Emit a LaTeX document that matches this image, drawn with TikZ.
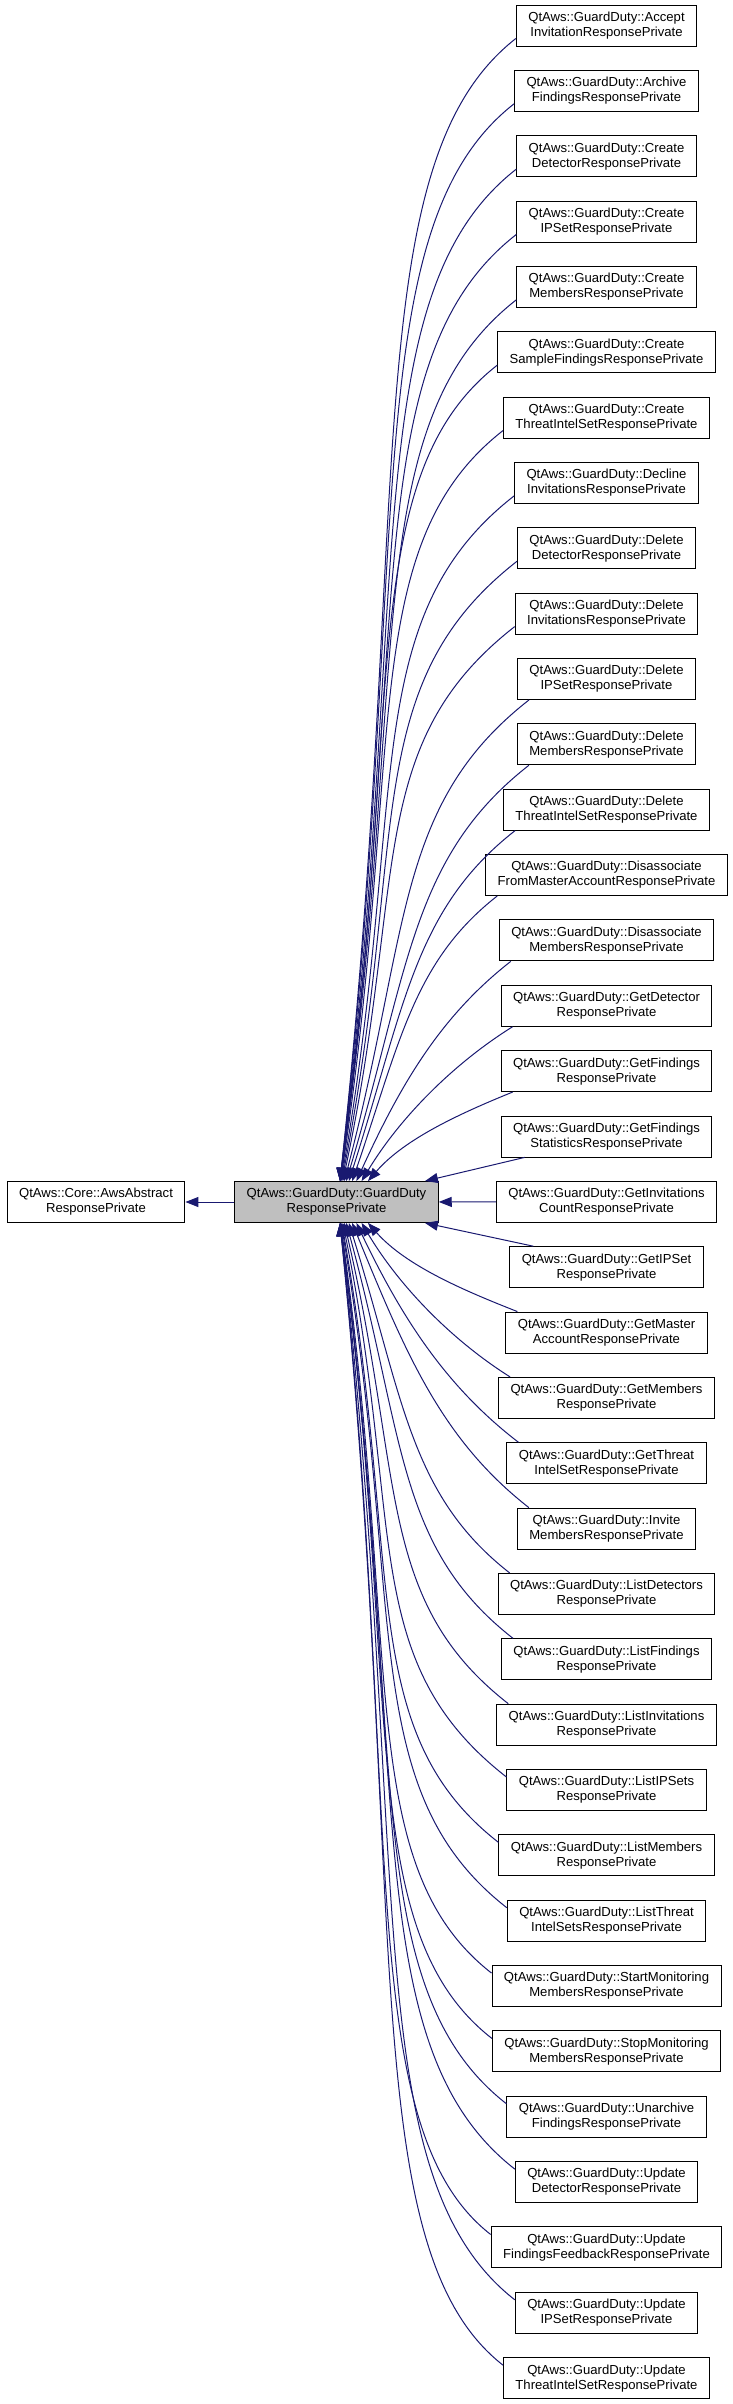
\documentclass[tikz,border=0pt]{standalone}
\usepackage{fontspec}
\setmainfont{Liberation Sans}
\usetikzlibrary{arrows.meta,calc}

\definecolor{edgeblue}{RGB}{25,25,112}
\definecolor{gdgray}{RGB}{191,191,191}

\tikzset{
	classbox/.style={draw=black, line width=0.9pt, fill=white, align=center,
		minimum height=41pt, inner xsep=12pt, inner ysep=2pt,
		font=\fontsize{13.1}{15}\selectfont},
	inherit/.style={draw=edgeblue, line width=1pt, -{Triangle[length=13pt,width=10pt]}},
}

\begin{document}
\begin{tikzpicture}[x=1pt, y=-1pt]
	\useasboundingbox (0,0) rectangle (732,2404);
	% Classes:
	\node[classbox] (base) at (96,1202) {QtAws::Core::AwsAbstract\\ResponsePrivate};
	\node[classbox, fill=gdgray] (gd) at (336.5,1202) {QtAws::GuardDuty::GuardDuty\\ResponsePrivate};
	\foreach \name/\txt [count=\i from 0] in {
		acc/QtAws::GuardDuty::Accept\\InvitationResponsePrivate,
		arch/QtAws::GuardDuty::Archive\\FindingsResponsePrivate,
		crdet/QtAws::GuardDuty::Create\\DetectorResponsePrivate,
		crip/QtAws::GuardDuty::Create\\IPSetResponsePrivate,
		crmem/QtAws::GuardDuty::Create\\MembersResponsePrivate,
		crsam/QtAws::GuardDuty::Create\\SampleFindingsResponsePrivate,
		crthr/QtAws::GuardDuty::Create\\ThreatIntelSetResponsePrivate,
		decinv/QtAws::GuardDuty::Decline\\InvitationsResponsePrivate,
		deldet/QtAws::GuardDuty::Delete\\DetectorResponsePrivate,
		delinv/QtAws::GuardDuty::Delete\\InvitationsResponsePrivate,
		delip/QtAws::GuardDuty::Delete\\IPSetResponsePrivate,
		delmem/QtAws::GuardDuty::Delete\\MembersResponsePrivate,
		delthr/QtAws::GuardDuty::Delete\\ThreatIntelSetResponsePrivate,
		disfrom/QtAws::GuardDuty::Disassociate\\FromMasterAccountResponsePrivate,
		dismem/QtAws::GuardDuty::Disassociate\\MembersResponsePrivate,
		getdet/QtAws::GuardDuty::GetDetector\\ResponsePrivate,
		getfind/QtAws::GuardDuty::GetFindings\\ResponsePrivate,
		getstat/QtAws::GuardDuty::GetFindings\\StatisticsResponsePrivate,
		getinv/QtAws::GuardDuty::GetInvitations\\CountResponsePrivate,
		getip/QtAws::GuardDuty::GetIPSet\\ResponsePrivate,
		getmas/QtAws::GuardDuty::GetMaster\\AccountResponsePrivate,
		getmem/QtAws::GuardDuty::GetMembers\\ResponsePrivate,
		getthr/QtAws::GuardDuty::GetThreat\\IntelSetResponsePrivate,
		invmem/QtAws::GuardDuty::Invite\\MembersResponsePrivate,
		lsdet/QtAws::GuardDuty::ListDetectors\\ResponsePrivate,
		lsfind/QtAws::GuardDuty::ListFindings\\ResponsePrivate,
		lsinv/QtAws::GuardDuty::ListInvitations\\ResponsePrivate,
		lsip/QtAws::GuardDuty::ListIPSets\\ResponsePrivate,
		lsmem/QtAws::GuardDuty::ListMembers\\ResponsePrivate,
		lsthr/QtAws::GuardDuty::ListThreat\\IntelSetsResponsePrivate,
		startmon/QtAws::GuardDuty::StartMonitoring\\MembersResponsePrivate,
		stopmon/QtAws::GuardDuty::StopMonitoring\\MembersResponsePrivate,
		unarch/QtAws::GuardDuty::Unarchive\\FindingsResponsePrivate,
		upddet/QtAws::GuardDuty::Update\\DetectorResponsePrivate,
		updfb/QtAws::GuardDuty::Update\\FindingsFeedbackResponsePrivate,
		updip/QtAws::GuardDuty::Update\\IPSetResponsePrivate,
		updthr/QtAws::GuardDuty::Update\\ThreatIntelSetResponsePrivate}
		\node[classbox] (\name) at (606.5,25.5+65.35*\i) {\txt};
	% Inheritance edges:
	\draw[inherit] (gd) -- (base);
	\foreach \name [count=\i from 0] in {acc,arch,crdet,crip,crmem,crsam,crthr,decinv,
		deldet,delinv,delip,delmem,delthr,disfrom,dismem,getdet,getfind,getstat,getinv,
		getip,getmas,getmem,getthr,invmem,lsdet,lsfind,lsinv,lsip,lsmem,lsthr,
		startmon,stopmon,unarch,upddet,updfb,updip,updthr} {
		\pgfmathtruncatemacro\kk{\i-18}
		\pgfmathtruncatemacro\absk{abs(\kk)}
		\ifnum\kk<0
			\def\sgn{1}\def\nsgn{-1}\def\gdside{north}\def\chanchor{south west}
		\else
			\def\sgn{-1}\def\nsgn{1}\def\gdside{south}\def\chanchor{north west}
		\fi
		\ifnum\absk>8
			\def\dx{0}\def\dy{\nsgn*8}
		\else
			\def\dx{12}\def\dy{0}
		\fi
		\ifnum\absk=0
			\draw[inherit] (\name) -- (gd);
		\fi
		\ifnum\absk=1
			\draw[inherit] let \p1 = (gd.\gdside) in
				($(\name.\chanchor)+(24,0)$) -- (425pt,\y1);
		\fi
		\ifnum\absk>1
			\pgfmathsetmacro\xend{340+28*((18-\absk)/16)^4}
			\draw[inherit] let \p1 = ($(\name.\chanchor)+(\dx,\dy)$), \p2 = (gd.\gdside),
				\n1 = {\x1-\xend pt}, \n2 = {abs(\y1-\y2)},
				\n3 = {atan2(\n2,\n1)}, \n4 = {veclen(\n1,\n2)},
				\n5 = {min(0.7*\n3,38)}, \n6 = {min(0.33*\n4,1.15*\n1)},
				\n7 = {0.7*\n3+27}, \n8 = {\n4*max(0.33,0.33+0.26*(\n3-45)/36)} in
				(\p1) .. controls ($(\p1)+({180+\sgn*\n5}:\n6)$)
				and ($(\xend pt,\y2)+({\sgn*\n7}:\n8)$) .. (\xend pt,\y2);
		\fi
	}
\end{tikzpicture}
\end{document}
